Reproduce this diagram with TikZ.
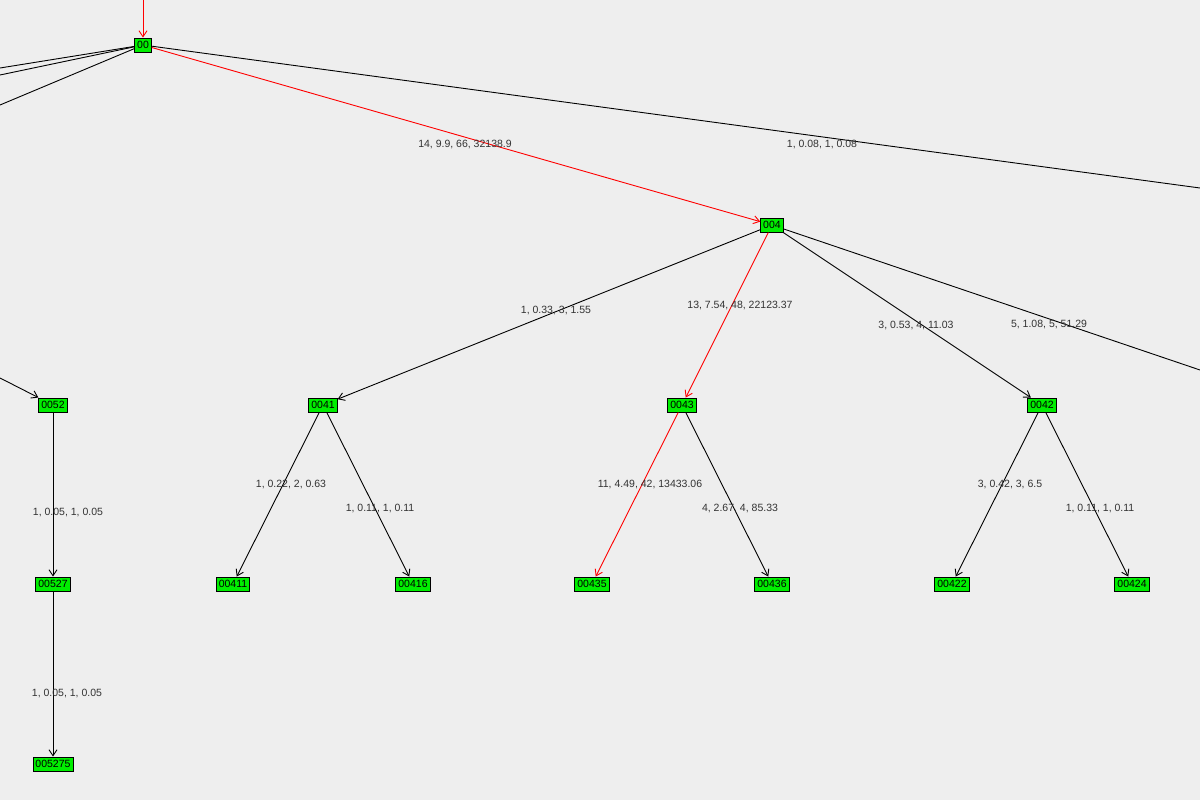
\documentclass[tikz,border=0pt]{standalone}
\usepackage{fontspec}
\setmainfont{Liberation Sans}
\usetikzlibrary{arrows.meta}
\definecolor{bg}{HTML}{EEEEEE}
\definecolor{ng}{HTML}{00EE00}
\begin{document}
\begin{tikzpicture}[x=1pt,y=-1pt,line width=0.9pt,
 nd/.style={draw=black,fill=ng,inner xsep=2.5pt,inner ysep=1pt,minimum height=14pt,line width=0.9pt,font=\fontsize{10.5}{11}\selectfont},
 lb/.style={font=\fontsize{10.5}{12}\selectfont,text=black!80},
 ed/.style={draw=black,-{Straight Barb[length=6pt,width=8pt]}},
 rd/.style={draw=red,-{Straight Barb[length=6pt,width=8pt]}},
 pl/.style={draw=black}]
\fill[bg] (0,0) rectangle (1200,800);
\useasboundingbox (0,0) rectangle (1200,800);
\node[nd] (n00) at (143,45) {00};
\node[nd] (n004) at (772,225) {004};
\node[nd] (n0052) at (53,405) {0052};
\node[nd] (n0041) at (323,405) {0041};
\node[nd] (n0043) at (682,405) {0043};
\node[nd] (n0042) at (1042,405) {0042};
\node[nd] (n00527) at (53,584) {00527};
\node[nd] (n00411) at (233,584) {00411};
\node[nd] (n00416) at (413,584) {00416};
\node[nd] (n00435) at (592,584) {00435};
\node[nd] (n00436) at (772,584) {00436};
\node[nd] (n00422) at (952,584) {00422};
\node[nd] (n00424) at (1132,584) {00424};
\node[nd] (n005275) at (53,764) {005275};
\coordinate (top) at (143,0);
\coordinate (l1) at (0,68);
\coordinate (l2) at (0,75);
\coordinate (l3) at (0,105);
\coordinate (r1) at (1200,188);
\coordinate (r2) at (1200,370);
\coordinate (l4) at (0,378);
\draw[rd] (top) -- (n00);
\draw[pl] (n00) -- (l1);
\draw[pl] (n00) -- (l2);
\draw[pl] (n00) -- (l3);
\draw[pl] (n00) -- (r1);
\draw[rd] (n00) -- (n004);
\draw[ed] (n004) -- (n0041);
\draw[rd] (n004) -- (n0043);
\draw[ed] (n004) -- (n0042);
\draw[pl] (n004) -- (r2);
\draw[ed] (l4) -- (n0052);
\draw[ed] (n0052) -- (n00527);
\draw[ed] (n00527) -- (n005275);
\draw[ed] (n0041) -- (n00411);
\draw[ed] (n0041) -- (n00416);
\draw[rd] (n0043) -- (n00435);
\draw[ed] (n0043) -- (n00436);
\draw[ed] (n0042) -- (n00422);
\draw[ed] (n0042) -- (n00424);
\node[lb] at (465,145) {14, 9.9, 66, 32138.9};
\node[lb] at (822,145) {1, 0.08, 1, 0.08};
\node[lb] at (556,311) {1, 0.33, 3, 1.55};
\node[lb] at (740,306) {13, 7.54, 48, 22123.37};
\node[lb] at (916,326) {3, 0.53, 4, 11.03};
\node[lb] at (1049,325) {5, 1.08, 5, 51.29};
\node[lb] at (68,513) {1, 0.05, 1, 0.05};
\node[lb] at (67,693) {1, 0.05, 1, 0.05};
\node[lb] at (291,485) {1, 0.22, 2, 0.63};
\node[lb] at (380,509) {1, 0.11, 1, 0.11};
\node[lb] at (650,485) {11, 4.49, 42, 13433.06};
\node[lb] at (740,509) {4, 2.67, 4, 85.33};
\node[lb] at (1010,485) {3, 0.42, 3, 6.5};
\node[lb] at (1100,509) {1, 0.11, 1, 0.11};
\end{tikzpicture}
\end{document}
